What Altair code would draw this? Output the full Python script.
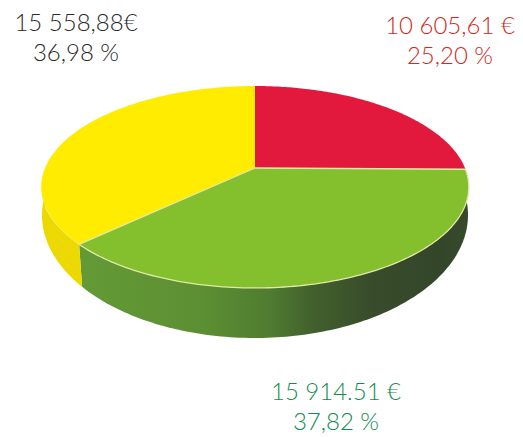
import math
import altair as alt
import pandas as pd

# Chart values
amounts = ["10 605,61 €", "15 914.51 €", "15 558,88€"]
percents = ["25,20 %", "37,82 %", "36,98 %"]
shares = [25.20, 37.82, 36.98]
top_colors = ["#e2183c", "#84bf2e", "#ffec00"]
text_colors = ["#d02a24", "#0f8c4e", "#2a2a2a"]
text_x = [450, 336, 76]
text_y = [27, 393, 24]

# Perspective model of the disc (image pixels)
CX, APEX_Y, C, B, K = 255, 168, 210, -97.4, 0.188
LOW_CY, LOW_RX, LOW_RY = 215, 213, 123
PAGE_W, PAGE_H = 507, 429


def top_point(turn):
    a = 2 * math.pi * turn
    u, v = math.sin(a), math.cos(a)
    d = 1 + K * v
    return CX + C * u / d, APEX_Y + B * v / d


def low_point(theta):
    return CX + LOW_RX * math.sin(theta), LOW_CY + LOW_RY * math.cos(theta)


def frame(points):
    return pd.DataFrame({"x": [p[0] for p in points], "y": [p[1] for p in points],
                         "o": list(range(len(points)))})


def poly(points, fill, stroke=None, sw=0):
    kw = {"strokeWidth": sw, "stroke": stroke or "transparent",
          "strokeJoin": "round", "clip": True}
    if fill is not None:
        kw["fill"] = fill
    return alt.Chart(frame(points)).mark_line(**kw).encode(
        x=alt.X("x:Q", scale=alt.Scale(domain=[8, 8 + PAGE_W]), axis=None),
        y=alt.Y("y:Q", scale=alt.Scale(domain=[8 + PAGE_H, 8]), axis=None),
        order="o:Q",
    )


# turn positions of the slices, clockwise from the top
cuts = [0.0]
for s in shares:
    cuts.append(cuts[-1] + s / 100)


def arc(t0, t1, n=120):
    return [top_point(t0 + (t1 - t0) * i / n) for i in range(n + 1)]


def low_arc(a0, a1, n=120):
    return [low_point(a0 + (a1 - a0) * i / n) for i in range(n + 1)]


apex = (CX, APEX_Y)
top_split = top_point(cuts[2])
split_theta = math.asin((top_split[0] + 3 - CX) / LOW_RX)

green_grad = alt.Gradient(
    gradient="linear", x1=0, x2=1, y1=0, y2=0,
    stops=[alt.GradientStop(color="#649a36", offset=0),
           alt.GradientStop(color="#5c8f33", offset=0.32),
           alt.GradientStop(color="#4f7c30", offset=0.49),
           alt.GradientStop(color="#42602d", offset=0.6),
           alt.GradientStop(color="#384c2b", offset=0.75),
           alt.GradientStop(color="#34462a", offset=0.93),
           alt.GradientStop(color="#364a2c", offset=1)],
)

layers = [
    poly([apex] + low_arc(math.radians(96), split_theta) + [top_split, apex], green_grad),
    poly([apex, top_split] + low_arc(split_theta, math.radians(-96)) + [apex], "#ecd902"),
]
rim = "#e3e8a8"
for i in [0, 2]:
    layers.append(poly([apex] + arc(cuts[i], cuts[i + 1]) + [apex], top_colors[i]))
# pale edge of the yellow slice's front rim, and of the green slice
layers.append(poly(arc(cuts[2], cuts[2] + 0.06), None, "#f6f2a0", 1))
layers.append(poly([apex] + arc(cuts[1], cuts[2]) + [apex], top_colors[1], rim, 1.3))

for i in range(3):
    for j, label in enumerate([amounts[i], percents[i]]):
        layers.append(
            alt.Chart(pd.DataFrame({"t": [label]})).mark_text(
                font="Lato", fontSize=24, fontWeight=300, align="center",
                baseline="middle", color=text_colors[i],
            ).encode(
                text="t:N",
                x=alt.value(text_x[i] - 8),
                y=alt.value(text_y[i] + 30 * j - 8),
            )
        )

chart = alt.layer(*layers).properties(
    width=PAGE_W, height=PAGE_H, padding=0, autosize=alt.AutoSizeParams(type="none"),
    background="white",
).configure_view(stroke=None)

chart.save("out.html", embed_options={"renderer": "svg", "actions": False})
